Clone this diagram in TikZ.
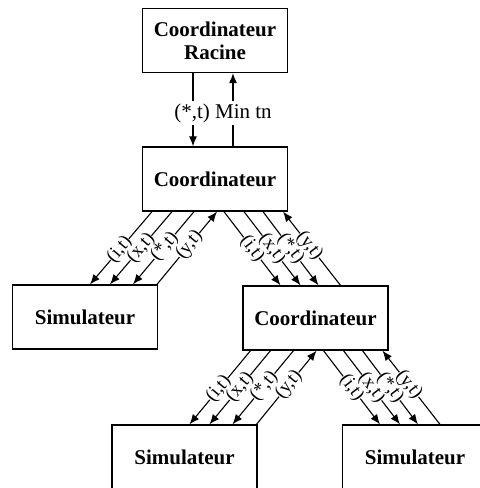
\documentclass[tikz,border=0pt]{standalone}
\usepackage{fontspec}
\setmainfont{Liberation Serif}
\usetikzlibrary{arrows.meta, calc}
\tikzset{
  % Box styles
  modelbox/.style={rectangle, draw=black, line width=0.65pt, fill=white, minimum width=72.5pt, minimum height=32pt, font=\fontsize{10.5}{11.5}\selectfont\bfseries, align=center, inner sep=1pt},
  % Arrow styles
  downarrow/.style={-{Latex[length=5pt,width=4pt]}, line width=0.55pt},
  uparrow/.style={{Latex[length=5pt,width=4pt]}-, line width=0.55pt},
  % Label styles
  msglabel/.style={sloped, fill=white, inner sep=0pt, font=\fontsize{9.5}{10}\selectfont},
  rootlabel/.style={fill=white, inner sep=1pt, font=\fontsize{10.5}{11.5}\selectfont}
}

\begin{document}
\begin{tikzpicture}[x=0.5pt, y=-0.5pt]
  \useasboundingbox (0,0) rectangle (480,488);

  % Hierarchy boxes
  \node[modelbox] (root) at (215,40.5) {Coordinateur\\Racine};
  \node[modelbox] (coordA) at (215,179) {Coordinateur};
  \node[modelbox] (simA) at (85,317) {Simulateur};
  \node[modelbox] (coordB) at (315.5,318) {Coordinateur};
  \node[modelbox] (simB) at (184.5,457) {Simulateur};
  \node[modelbox] (simC) at (415,457) {Simulateur};

  % Root coordinator exchange
  \draw[downarrow] ($(root.south)+(-22,0)$) -- ($(coordA.north)+(-22,0)$);
  \draw[uparrow] ($(root.south)+(18,0)$) -- ($(coordA.north)+(18,0)$);
  \node[rootlabel] (rootmsg) at (223,113) {(*,t) Min tn};

  % Coordinateur -> Simulateur (left)
  \draw[downarrow] ($(coordA.south)+(-63,0)$) -- node[msglabel, pos=0.52] {(i,t)} ($(simA.north)+(5,0)$);
  \draw[downarrow] ($(coordA.south)+(-43,0)$) -- node[msglabel, pos=0.5] {(x,t)} ($(simA.north)+(25,0)$);
  \draw[downarrow] ($(coordA.south)+(-21,0)$) -- node[msglabel, pos=0.48] {(*,t)} ($(simA.north)+(48,0)$);
  \draw[uparrow] ($(coordA.south)+(2,0)$) -- node[msglabel, pos=0.46] {(y,t)} ($(simA.north)+(72,0)$);

  % Coordinateur -> Coordinateur (right)
  \draw[downarrow] ($(coordA.south)+(9,0)$) -- node[msglabel, pos=0.5] {(i,t)} ($(coordB.north)+(-35,0)$);
  \draw[downarrow] ($(coordA.south)+(29,0)$) -- node[msglabel, pos=0.5] {(x,t)} ($(coordB.north)+(-15,0)$);
  \draw[downarrow] ($(coordA.south)+(48,0)$) -- node[msglabel, pos=0.5] {(*,t)} ($(coordB.north)+(3,0)$);
  \draw[uparrow] ($(coordA.south)+(68,0)$) -- node[msglabel, pos=0.46] {(y,t)} ($(coordB.north)+(25,0)$);

  % Coordinateur -> Simulateur (bottom left)
  \draw[downarrow] ($(coordB.south)+(-65,0)$) -- node[msglabel, pos=0.52] {(i,t)} ($(simB.north)+(5,0)$);
  \draw[downarrow] ($(coordB.south)+(-45,0)$) -- node[msglabel, pos=0.5] {(x,t)} ($(simB.north)+(25,0)$);
  \draw[downarrow] ($(coordB.south)+(-22,0)$) -- node[msglabel, pos=0.48] {(*,t)} ($(simB.north)+(48,0)$);
  \draw[uparrow] ($(coordB.south)+(1,0)$) -- node[msglabel, pos=0.46] {(y,t)} ($(simB.north)+(72,0)$);

  % Coordinateur -> Simulateur (bottom right)
  \draw[downarrow] ($(coordB.south)+(8,0)$) -- node[msglabel, pos=0.5] {(i,t)} ($(simC.north)+(-35,0)$);
  \draw[downarrow] ($(coordB.south)+(28,0)$) -- node[msglabel, pos=0.5] {(x,t)} ($(simC.north)+(-15,0)$);
  \draw[downarrow] ($(coordB.south)+(47,0)$) -- node[msglabel, pos=0.5] {(*,t)} ($(simC.north)+(3,0)$);
  \draw[uparrow] ($(coordB.south)+(67,0)$) -- node[msglabel, pos=0.46] {(y,t)} ($(simC.north)+(25,0)$);
\end{tikzpicture}
\end{document}
